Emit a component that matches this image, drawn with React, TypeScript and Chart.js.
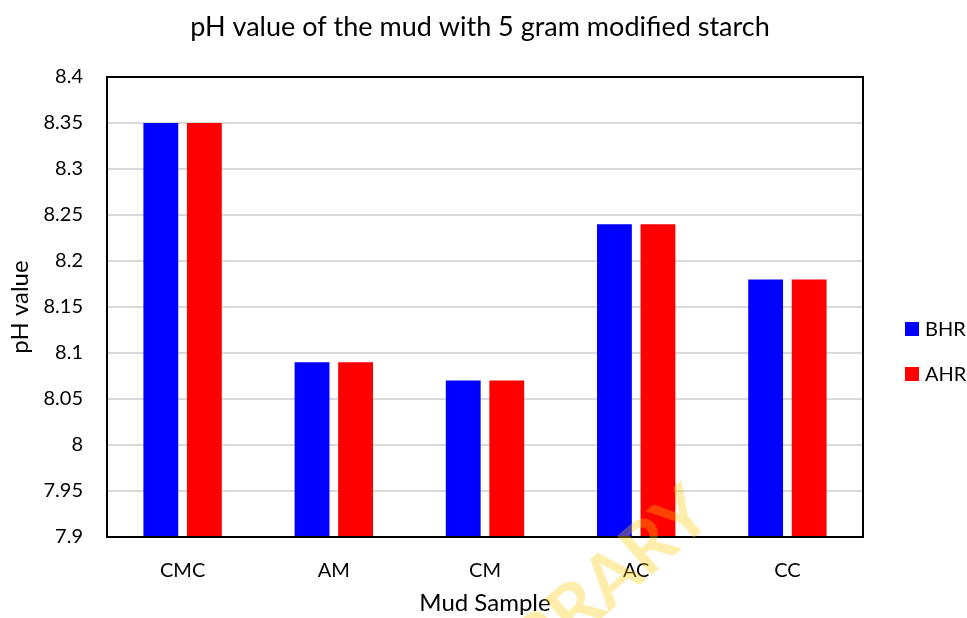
import React, { useEffect, useRef } from "react";
import { Chart, registerables } from "chart.js";

Chart.register(...registerables);

const categories = ["CMC", "AM", "CM", "AC", "CC"];
const bhrValues = [8.35, 8.09, 8.07, 8.24, 8.18];
const ahrValues = [8.35, 8.09, 8.07, 8.24, 8.18];
const seriesNames = ["BHR", "AHR"];
const seriesColors = ["#0000ff", "#ff0000"];
const titleText = "pH value of the mud with 5 gram modified starch";
const yTitle = "pH value";
const xTitle = "Mud Sample";
const watermark = "LIBRARY";

const FONT = "Lato, 'Open Sans', sans-serif";

export default function App() {
  const ref = useRef<HTMLCanvasElement | null>(null);

  useEffect(() => {
    if (!ref.current) return;
    const decor = {
      id: "decor",
      afterDatasetsDraw(chart: any) {
        const { ctx, chartArea } = chart;
        ctx.save();
        ctx.strokeStyle = "#000";
        ctx.lineWidth = 2;
        ctx.strokeRect(chartArea.left, chartArea.top, chartArea.right - chartArea.left, chartArea.bottom - chartArea.top);
        ctx.restore();
      },
      afterDraw(chart: any) {
        const { ctx } = chart;
        ctx.save();
        // title
        ctx.fillStyle = "#000";
        ctx.font = `27px ${FONT}`;
        ctx.textAlign = "center";
        ctx.textBaseline = "middle";
        ctx.fillText(titleText, 480, 27);
        // legend
        const items = [{ y: 329 }, { y: 374 }];
        ctx.font = `20px ${FONT}`;
        ctx.textAlign = "left";
        items.forEach((it, i) => {
          ctx.fillStyle = seriesColors[i];
          ctx.fillRect(905, it.y - 7, 14, 14);
          ctx.fillStyle = "#000";
          ctx.fillText(seriesNames[i], 925, it.y + 1);
        });
        // watermark
        ctx.translate(700, 502);
        ctx.rotate((-41 * Math.PI) / 180);
        ctx.font = `bold 72px ${FONT}`;
        ctx.fillStyle = "rgba(255, 200, 0, 0.33)";
        ctx.textAlign = "right";
        ctx.textBaseline = "middle";
        ctx.fillText(watermark, 0, 0);
        ctx.restore();
      },
    };

    const chart = new Chart(ref.current, {
      type: "bar",
      data: {
        labels: categories,
        datasets: [
          { label: seriesNames[0], data: bhrValues, backgroundColor: seriesColors[0], categoryPercentage: 0.576, barPercentage: 0.8 },
          { label: seriesNames[1], data: ahrValues, backgroundColor: seriesColors[1], categoryPercentage: 0.576, barPercentage: 0.8 },
        ],
      },
      options: {
        animation: false,
        responsive: false,
        maintainAspectRatio: false,
        layout: { padding: { top: 77, right: 104, left: 0, bottom: 0 } },
        plugins: {
          legend: { display: false },
          title: { display: false },
          tooltip: { enabled: false },
        },
        scales: {
          x: {
            grid: { display: false, drawTicks: false },
            border: { display: false },
            ticks: { color: "#000", font: { family: FONT, size: 20 }, padding: 22 },
            title: { display: true, text: xTitle, color: "#000", font: { family: FONT, size: 24 }, padding: { top: 0, bottom: 0 } },
            afterFit: (s: any) => { s.height = 81; },
          },
          y: {
            min: 7.9,
            max: 8.4,
            grid: { color: "#d9d9d9", lineWidth: 2, drawTicks: false },
            border: { display: false },
            ticks: {
              stepSize: 0.05,
              color: "#000",
              font: { family: FONT, size: 20 },
              padding: 24,
              callback: (v: any) => String(Number(Number(v).toFixed(2))),
            },
            title: { display: true, text: yTitle, color: "#000", font: { family: FONT, size: 24 }, padding: { top: 6, bottom: 0 } },
            afterFit: (s: any) => { s.width = 107; },
          },
        },
      },
      plugins: [decor],
    });
    return () => chart.destroy();
  }, []);

  return (
    <div style={{ position: "fixed", left: 0, top: 0, width: 967, height: 618, background: "#fff" }}>
      <canvas ref={ref} width={967} height={618} style={{ width: 967, height: 618 }} />
    </div>
  );
}
